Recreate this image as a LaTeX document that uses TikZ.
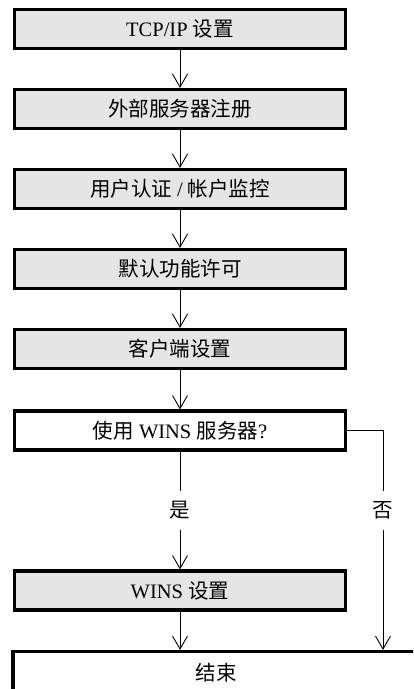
\documentclass[tikz,border=0pt]{standalone}
\usepackage{fontspec}
\setmainfont{Liberation Serif}
\newfontfamily\cjk{Noto Sans CJK SC}
\usepackage{tikz}
\usetikzlibrary{arrows.meta, positioning}

\begin{document}
\begin{tikzpicture}[x=1pt, y=-1pt, font=\fontsize{20.5}{24}\selectfont,
  stepbox/.style={draw, line width=3.2pt, fill=black!10, minimum width=331pt, minimum height=39pt, inner sep=0pt},
  askbox/.style={stepbox, fill=white},
  lbl/.style={inner sep=0pt, minimum height=39pt},
  arr/.style={line width=0.9pt, -{Straight Barb[length=13pt, width=15pt, line width=0.9pt]}}]
  \clip (0,0) rectangle (413,689);

  \node[stepbox] (tcp) at (180,29) {TCP/IP {\cjk 设置}};
  \node[stepbox] (ext) at (180,109) {\cjk 外部服务器注册};
  \node[stepbox] (auth) at (180,189) {{\cjk 用户认证} / {\cjk 帐户监控}};
  \node[stepbox] (perm) at (180,269) {\cjk 默认功能许可};
  \node[stepbox] (client) at (180,349) {\cjk 客户端设置};
  \node[askbox] (ask) at (180,430.5) {{\cjk 使用} WINS {\cjk 服务器}?};
  \node[stepbox] (wins) at (180,590.5) {WINS {\cjk 设置}};
  \node[askbox, minimum width=406pt, minimum height=43pt] (done) at (216,673) {\cjk 结束};

  \draw[arr] (tcp) -- (ext);
  \draw[arr] (ext) -- (auth);
  \draw[arr] (auth) -- (perm);
  \draw[arr] (perm) -- (client);
  \draw[arr] (client) -- (ask);

  % yes / no branch
  \node[lbl] (yes) at (180,510.5) {\cjk 是};
  \node[lbl] (no) at (383,510.5) {\cjk 否};
  \draw[line width=0.9pt] (ask) -- (yes);
  \draw[arr] (yes) -- (wins);
  \draw[line width=0.9pt] (ask.east) -| (no.north);
  \draw[arr] (no.south) -- (no.south |- done.north);
  \draw[arr] (wins) -- (wins.south |- done.north);
\end{tikzpicture}
\end{document}
